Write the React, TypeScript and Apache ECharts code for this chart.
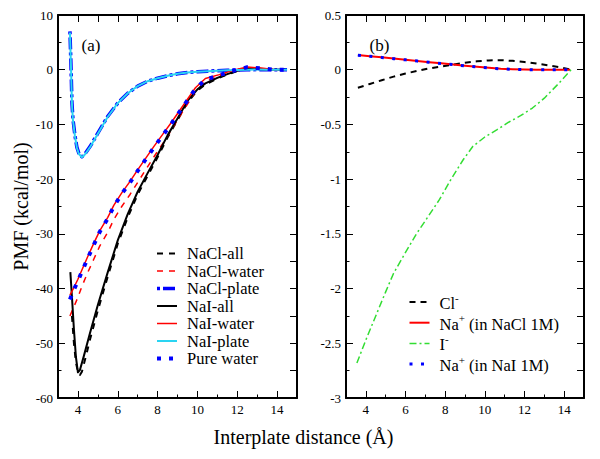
import React, { useEffect, useRef } from "react";
import * as echarts from "echarts";

const FONT = "Liberation Serif";

// ---------- panel (a) ----------
const X_PLATE = [3.6, 3.65, 3.7, 3.75, 3.85, 3.95, 4.05, 4.2, 4.35, 4.6, 5.0, 5.5, 6.0, 6.5, 7.0, 7.5, 8.0, 8.5, 9.0, 9.5, 10.0, 10.5, 11.0, 11.5, 12.0, 12.5, 13.0, 13.5, 14.0, 14.5];
const NACL_PLATE = [7.0, 1.0, -6.0, -9.0, -12.0, -14.2, -15.3, -15.9, -15.4, -14.1, -11.6, -8.5, -6.1, -4.3, -3.0, -2.1, -1.55, -1.1, -0.75, -0.52, -0.37, -0.26, -0.17, -0.1, -0.04, 0.0, 0.02, 0.0, 0.0, 0.0];
const NAI_PLATE = [6.8, 0.8, -6.2, -9.2, -12.1, -14.3, -15.4, -16.0, -15.5, -14.2, -11.7, -8.6, -6.1, -4.3, -3.0, -2.1, -1.55, -1.1, -0.75, -0.52, -0.37, -0.26, -0.17, -0.1, -0.04, 0.0, 0.02, 0.0, 0.0, 0.0];

const X_WATER = [3.6, 3.8, 4.0, 4.2, 4.5, 4.8, 5.1, 5.5, 5.8, 6.2, 6.6, 7.0, 7.4, 7.8, 8.3, 8.7, 9.1, 9.5, 9.9, 10.4, 11.1, 11.8, 12.5, 13.2, 13.9, 14.4];
const PURE_WATER = [-42.0, -40.2, -38.6, -36.9, -34.4, -32.0, -29.6, -27.2, -25.0, -22.7, -20.7, -18.5, -16.4, -14.3, -11.8, -9.8, -7.7, -5.6, -3.5, -1.8, -1.0, -0.2, 0.45, 0.25, 0.0, 0.0];
const NAI_WATER = [-41.2, -39.8, -38.3, -36.6, -34.1, -31.7, -29.4, -27.0, -24.8, -22.5, -20.5, -18.3, -16.2, -14.1, -11.6, -9.6, -7.5, -5.4, -3.3, -1.6, -0.9, -0.1, 0.5, 0.3, 0.0, 0.0];
const NACL_WATER = [-45.0, -43.3, -41.6, -39.6, -37.0, -34.6, -32.2, -29.7, -27.4, -25.0, -22.9, -20.6, -18.3, -16.0, -13.3, -11.0, -8.6, -6.3, -4.0, -2.1, -1.15, -0.3, 0.35, 0.2, 0.0, 0.0];

const X_NAI_ALL = [3.62, 3.7, 3.8, 3.9, 4.0, 4.1, 4.3, 4.6, 5.0, 5.5, 6.0, 6.5, 7.0, 7.5, 8.0, 8.5, 9.0, 9.5, 10.0, 10.4, 11.0, 11.5, 12.0, 12.5, 13.0, 13.5, 14.0, 14.4];
const NAI_ALL = [-37.0, -41.5, -47.5, -52.5, -55.3, -54.9, -52.3, -48.2, -43.0, -37.0, -31.2, -26.4, -22.3, -18.9, -15.6, -12.0, -8.9, -5.7, -3.6, -2.5, -1.5, -0.8, -0.2, 0.25, 0.15, 0.05, 0.0, 0.0];
const X_NACL_ALL = [3.7, 3.8, 3.9, 4.0, 4.1, 4.2, 4.4, 4.6, 5.0, 5.5, 6.0, 6.5, 7.0, 7.5, 8.0, 8.5, 9.0, 9.5, 10.0, 10.4, 11.0, 11.5, 12.0, 12.5, 13.0, 13.5, 14.0, 14.4];
const NACL_ALL = [-45.0, -50.0, -53.5, -55.2, -55.8, -55.2, -52.4, -49.4, -44.0, -37.8, -31.8, -27.0, -22.8, -19.4, -16.0, -12.4, -9.2, -6.0, -3.8, -2.7, -1.6, -0.9, -0.25, 0.2, 0.15, 0.05, 0.0, 0.0];

// ---------- panel (b) ----------
const X_NA = [3.6, 4.2, 4.8, 5.4, 6.0, 6.6, 7.2, 7.8, 8.4, 9.0, 9.6, 10.2, 10.8, 11.4, 12.0, 12.6, 13.2, 13.8, 14.3];
const NA_NACL = [0.135, 0.124, 0.113, 0.102, 0.091, 0.08, 0.069, 0.058, 0.047, 0.036, 0.026, 0.017, 0.009, 0.004, 0.001, -0.001, -0.001, 0.0, 0.0];
const NA_NAI = [0.133, 0.123, 0.112, 0.101, 0.09, 0.079, 0.068, 0.057, 0.046, 0.035, 0.025, 0.016, 0.008, 0.003, 0.0, -0.001, -0.001, 0.0, 0.0];
const X_CL = [3.6, 4.2, 4.8, 5.4, 6.0, 6.6, 7.2, 7.8, 8.4, 9.0, 9.6, 10.2, 10.8, 11.4, 12.0, 12.6, 13.2, 13.8, 14.35];
const CL = [-0.165, -0.13, -0.096, -0.063, -0.035, -0.01, 0.012, 0.03, 0.047, 0.063, 0.077, 0.085, 0.087, 0.081, 0.07, 0.056, 0.04, 0.022, 0.0];
const X_I = [3.55, 4.0, 4.5, 5.0, 5.4, 6.0, 6.55, 7.0, 7.7, 8.3, 8.9, 9.4, 10.0, 10.6, 11.2, 11.8, 12.4, 13.0, 13.7, 14.35];
const I_ION = [-2.68, -2.47, -2.25, -2.03, -1.86, -1.67, -1.5, -1.38, -1.19, -1.0, -0.825, -0.7, -0.615, -0.55, -0.48, -0.42, -0.35, -0.26, -0.13, 0.0];

const X_LABEL_TICKS = [4, 6, 8, 10, 12, 14];
const LEGEND_A = ["NaCl-all", "NaCl-water", "NaCl-plate", "NaI-all", "NaI-water", "NaI-plate", "Pure water"];
const LEGEND_B = ["Cl-", "Na+ (in NaCl 1M)", "I-", "Na+ (in NaI 1M)"];

const pairs = (xs: number[], ys: number[]) => xs.map((x, i) => [x, ys[i]]);

export default function App() {
  const ref = useRef<HTMLDivElement>(null);
  useEffect(() => {
    if (!ref.current) return;
    const chart = echarts.init(ref.current, null, { renderer: "svg" });
    const tickLine = { color: "#000", width: 1 };
    const frame = { show: true, onZero: false, lineStyle: { color: "#000", width: 2 } };
    const noLine = { show: false, onZero: false };
    const labelStyle = { fontSize: 13, color: "#000", fontFamily: FONT };

    const xAxesFor = (g: number) => [
      {
        type: "value", gridIndex: g, position: "bottom", min: 3, max: 15, interval: 1,
        axisLine: frame,
        axisTick: { show: true, inside: true, length: 3.5, lineStyle: tickLine },
        axisLabel: { show: false }, splitLine: { show: false },
      },
      {
        type: "value", gridIndex: g, position: "bottom", min: 3, max: 15, interval: 1,
        axisLine: noLine,
        axisTick: { show: true, inside: true, length: 7, lineStyle: tickLine, customValues: X_LABEL_TICKS },
        axisLabel: { show: true, margin: 5, customValues: X_LABEL_TICKS, ...labelStyle },
        splitLine: { show: false },
      },
      {
        type: "value", gridIndex: g, position: "top", min: 3, max: 15, interval: 1,
        axisLine: frame,
        axisTick: { show: true, inside: true, length: 7, lineStyle: tickLine },
        axisLabel: { show: false }, splitLine: { show: false },
      },
    ];

    const line = (name: string, xs: number[], ys: number[], panel: number, color: string, width: number, type: any, z: number) => ({
      name, type: "line", xAxisIndex: panel === 0 ? 0 : 3, yAxisIndex: panel === 0 ? 0 : 2,
      data: pairs(xs, ys), symbol: "none", showSymbol: false, z,
      lineStyle: { color, width, type, cap: "butt", join: "round" },
      itemStyle: { color },
      emphasis: { disabled: true },
    });

    const legendBase = {
      orient: "vertical", selectedMode: false, itemWidth: 20, itemHeight: 10,
      lineStyle: { width: "inherit" },
      itemStyle: { color: "rgba(0,0,0,0)", borderWidth: 0 },
    };

    const option: any = {
      animation: false,
      backgroundColor: "#fff",
      textStyle: { fontFamily: FONT },
      grid: [
        { left: 58, top: 15, width: 239, height: 383 },
        { left: 346, top: 15, width: 238, height: 383 },
      ],
      xAxis: [...xAxesFor(0), ...xAxesFor(1)],
      yAxis: [
        {
          type: "value", gridIndex: 0, position: "left", min: -60, max: 10, interval: 10,
          axisLine: frame,
          axisTick: { show: true, inside: true, length: 7, lineStyle: tickLine },
          minorTick: { show: true, splitNumber: 2, length: 3.5, lineStyle: tickLine },
          axisLabel: { margin: 5, ...labelStyle },
          splitLine: { show: false }, minorSplitLine: { show: false },
          name: "PMF (kcal/mol)", nameLocation: "middle", nameGap: 27,
          nameTextStyle: { fontSize: 20, color: "#000", fontFamily: FONT },
        },
        {
          type: "value", gridIndex: 0, position: "right", min: -60, max: 10, interval: 5,
          axisLine: frame,
          axisTick: { show: true, inside: true, length: 7, lineStyle: tickLine },
          axisLabel: { show: false }, splitLine: { show: false },
        },
        {
          type: "value", gridIndex: 1, position: "left", min: -3, max: 0.5, interval: 0.5,
          axisLine: frame,
          axisTick: { show: true, inside: true, length: 7, lineStyle: tickLine },
          minorTick: { show: true, splitNumber: 2, length: 3.5, lineStyle: tickLine },
          axisLabel: { margin: 5, ...labelStyle },
          splitLine: { show: false }, minorSplitLine: { show: false },
        },
        {
          type: "value", gridIndex: 1, position: "right", min: -3, max: 0.5, interval: 0.25,
          axisLine: frame,
          axisTick: { show: true, inside: true, length: 7, lineStyle: tickLine },
          axisLabel: { show: false }, splitLine: { show: false },
        },
      ],
      legend: [
        {
          ...legendBase, left: 150, top: 240, itemGap: 0.5, data: LEGEND_A,
          textStyle: { fontSize: 16.5, color: "#000", fontFamily: FONT, lineHeight: 16, padding: [0, 0, 0, 5] },
        },
        {
          ...legendBase, left: 403, top: 287, itemGap: 0.7, data: LEGEND_B,
          formatter: (name: string) => {
            const map: Record<string, string> = {
              "Cl-": "{n|Cl}{s|-}",
              "Na+ (in NaCl 1M)": "{n|Na}{s|+}{n| (in NaCl 1M)}",
              "I-": "{n|I}{s|-}",
              "Na+ (in NaI 1M)": "{n|Na}{s|+}{n| (in NaI 1M)}",
            };
            return map[name] || name;
          },
          textStyle: {
            color: "#000", fontFamily: FONT, fontSize: 16.5, padding: [0, 0, 0, 5],
            rich: {
              n: { fontSize: 16.5, lineHeight: 20, fontFamily: FONT, color: "#000", verticalAlign: "bottom" },
              s: { fontSize: 11, lineHeight: 11, fontFamily: FONT, color: "#000", verticalAlign: "top" },
            },
          },
        },
      ],
      graphic: [
        { type: "text", x: 91, y: 45, style: { text: "(a)", fontSize: 17, fontFamily: FONT, fill: "#000", align: "center", verticalAlign: "middle" } },
        { type: "text", x: 379.5, y: 45, style: { text: "(b)", fontSize: 17, fontFamily: FONT, fill: "#000", align: "center", verticalAlign: "middle" } },
        { type: "text", x: 303.5, y: 436.5, style: { text: "Interplate distance (Å)", fontSize: 20, fontFamily: FONT, fill: "#000", align: "center", verticalAlign: "middle" } },
      ],
      series: [
        line("NaCl-all", X_NACL_ALL, NACL_ALL, 0, "#000000", 2, [6, 6], 2),
        line("NaCl-water", X_WATER, NACL_WATER, 0, "#ff0000", 1.5, [6, 6], 2),
        line("NaCl-plate", X_PLATE, NACL_PLATE, 0, "#0000ff", 3.5, [3, 3, 12, 3], 2),
        line("NaI-all", X_NAI_ALL, NAI_ALL, 0, "#000000", 2, "solid", 3),
        line("NaI-water", X_WATER, NAI_WATER, 0, "#ff0000", 1.5, "solid", 3),
        line("NaI-plate", X_PLATE, NAI_PLATE, 0, "#2ad4f2", 2, "solid", 4),
        line("Pure water", X_WATER, PURE_WATER, 0, "#0000ff", 4, [4, 8], 5),
        line("Cl-", X_CL, CL, 1, "#000000", 2, [6, 5], 2),
        line("Na+ (in NaCl 1M)", X_NA, NA_NACL, 1, "#ff0000", 2, "solid", 2),
        line("I-", X_I, I_ION, 1, "#33dd33", 1.5, [7, 3, 2, 3], 2),
        line("Na+ (in NaI 1M)", X_NA, NA_NAI, 1, "#0000ff", 3, [3, 8.5], 3),
      ],
    };
    chart.setOption(option);
    return () => chart.dispose();
  }, []);
  return (
    <div
      ref={ref}
      style={{ position: "absolute", left: 0, top: 0, width: 600, height: 459, background: "#fff" }}
    />
  );
}
